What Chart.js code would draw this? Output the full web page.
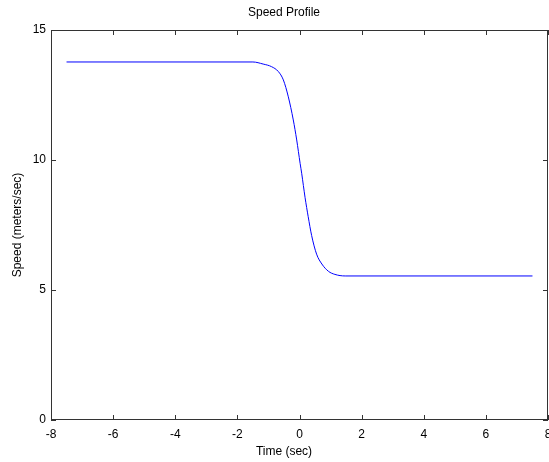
<!DOCTYPE html>
<html>
<head>
<meta charset="utf-8">
<script src="https://cdn.jsdelivr.net/npm/chart.js@4"></script>
<style>
  html, body { margin: 0; padding: 0; background: #fff; }
  #wrap { width: 549px; height: 462px; }
</style>
</head>
<body>
<div id="wrap"><canvas id="speed"></canvas></div>
<script>
// values
const times = [-7.5, -1.5, -1.17, -0.9, -0.68, -0.52, -0.36, -0.2, -0.09, 0.02, 0.07, 0.18, 0.28, 0.39, 0.55, 0.72, 0.93, 1.14, 1.47, 7.5];
const speeds = [13.77, 13.77, 13.69, 13.59, 13.40, 13.08, 12.43, 11.54, 10.77, 9.87, 9.49, 8.55, 7.82, 7.10, 6.38, 6.0, 5.72, 5.60, 5.54, 5.54];
const xTicks = [-8, -6, -4, -2, 0, 2, 4, 6, 8];
const yTicks = [0, 5, 10, 15];

const titleText = 'Speed Profile';
const xLabel = 'Time (sec)';
const yLabel = 'Speed (meters/sec)';

const FONT = '12px "Liberation Sans", Arial, sans-serif';
const AXIS = '#333';

// box + inward ticks + titles, matlab style
const matlabAxes = {
  id: 'matlabAxes',
  afterDraw(chart) {
    const { ctx, chartArea: a, scales } = chart;
    const tl = 5;
    ctx.save();
    ctx.strokeStyle = AXIS;
    ctx.lineWidth = 1;
    ctx.strokeRect(a.left + 0.5, a.top + 0.5, a.right - a.left - 1, a.bottom - a.top - 1);
    ctx.beginPath();
    scales.x.ticks.forEach(t => {
      const x = Math.round(scales.x.getPixelForValue(t.value)) + 0.5;
      ctx.moveTo(x, a.bottom); ctx.lineTo(x, a.bottom - tl);
      ctx.moveTo(x, a.top); ctx.lineTo(x, a.top + tl);
    });
    scales.y.ticks.forEach(t => {
      const y = Math.round(scales.y.getPixelForValue(t.value)) + 0.5;
      ctx.moveTo(a.left, y); ctx.lineTo(a.left + tl, y);
      ctx.moveTo(a.right, y); ctx.lineTo(a.right - tl, y);
    });
    ctx.stroke();

    ctx.fillStyle = '#000';
    ctx.font = FONT;
    ctx.textAlign = 'center';
    ctx.textBaseline = 'middle';
    ctx.fillText(titleText, 284, 13);
    ctx.fillText(xLabel, 284, 452);
    ctx.translate(18, (a.top + a.bottom) / 2);
    ctx.rotate(-Math.PI / 2);
    ctx.fillText(yLabel, 0, 0);
    ctx.restore();
  }
};

new Chart(document.getElementById('speed'), {
  type: 'scatter',
  data: {
    datasets: [{
      data: times.map((t, i) => ({ x: t, y: speeds[i] })),
      showLine: true,
      borderColor: '#0000ff',
      borderWidth: 1,
      pointRadius: 0,
      cubicInterpolationMode: 'monotone',
    }],
  },
  options: {
    responsive: true,
    maintainAspectRatio: false,
    animation: false,
    layout: { padding: { top: 30, right: 1, left: 0, bottom: 0 } },
    plugins: { legend: { display: false }, tooltip: { enabled: false } },
    scales: {
      x: {
        type: 'linear',
        min: -8,
        max: 8,
        afterBuildTicks: s => { s.ticks = xTicks.map(v => ({ value: v })); },
        grid: { display: false, drawTicks: false },
        border: { display: false },
        ticks: { color: '#000', font: { family: '"Liberation Sans", Arial, sans-serif', size: 12 }, padding: 7, maxRotation: 0, autoSkip: false },
        afterFit: s => { s.height = 42; s.paddingLeft = 0; s.paddingRight = 0; },
      },
      y: {
        min: 0,
        max: 15,
        afterBuildTicks: s => { s.ticks = yTicks.map(v => ({ value: v })); },
        grid: { display: false, drawTicks: false },
        border: { display: false },
        ticks: { color: '#000', font: { family: '"Liberation Sans", Arial, sans-serif', size: 12 }, padding: 5 },
        afterFit: s => { s.width = 51; s.paddingTop = 0; s.paddingBottom = 0; },
      },
    },
  },
  plugins: [matlabAxes],
});
</script>
</body>
</html>
